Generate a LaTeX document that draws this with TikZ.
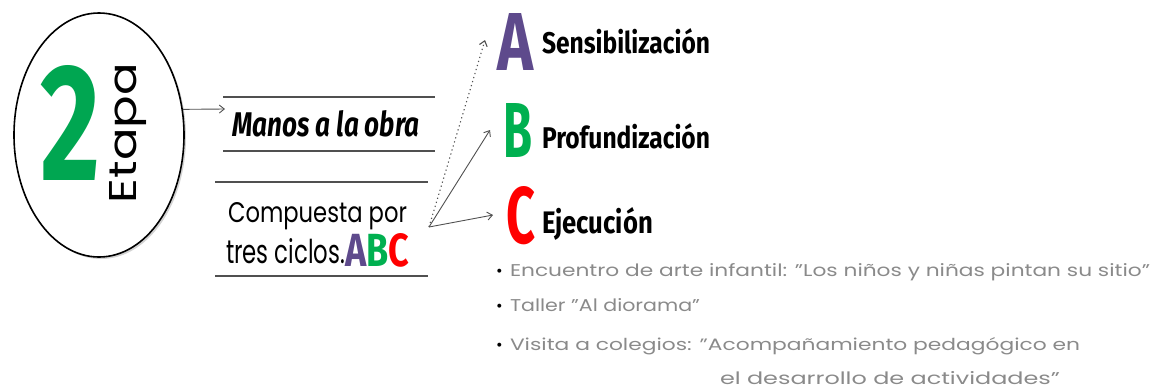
\documentclass[tikz,border=0pt]{standalone}
\usepackage{fontspec}
\usepackage{graphicx}
\setmainfont{Poppins}
\newfontfamily\fira{Fira Sans}
\usetikzlibrary{arrows.meta,shapes.geometric,shadows}
\definecolor{tgreen}{HTML}{00A651}
\definecolor{bgreen}{HTML}{00B050}
\definecolor{purp}{HTML}{5E4A8C}
\definecolor{tred}{HTML}{FF0000}
\definecolor{lineg}{HTML}{505050}
\definecolor{bulg}{HTML}{8A8A8A}
\tikzset{
  plain/.style={inner sep=0pt, outer sep=0pt},
  boxline/.style={draw=lineg, line width=1.8pt},
  conn/.style={draw=lineg, line width=0.9pt, -{Straight Barb[length=5pt,width=8pt]}},
  dotconn/.style={conn, line width=1.1pt, dash pattern=on 1.2pt off 3pt},
  bullet/.style={plain, anchor=base west, text=bulg},
}
\begin{document}
\begin{tikzpicture}[x=1pt,y=-1pt]
\useasboundingbox (0,0) rectangle (1159,391);
% Ellipse with "2 Etapa"
\node[ellipse, draw=black, fill=white, line width=1.6pt, minimum width=170pt, minimum height=244pt, inner sep=0pt,
      drop shadow={shadow xshift=2pt, shadow yshift=-2pt, opacity=0.35}] (etapa) at (99,135) {};
\node[plain, anchor=south west, text=tgreen] (two) at (40,180) {\resizebox{60pt}{115pt}{\fira\bfseries 2}};
\node[plain, rotate=90, anchor=base] (etapatxt) at (136,133) {\resizebox{140pt}{27pt}{Etapa}};
% Boxes
\node[plain, minimum width=212pt, minimum height=54pt] (box1) at (329,124) {};
\draw[boxline] (box1.north west) -- (box1.north east);
\draw[boxline] (box1.south west) -- (box1.south east);
\node[plain] (manos) at (326,124) {\resizebox{187pt}{26pt}{\fira\bfseries\itshape Manos a la obra}};
\node[plain, minimum width=213pt, minimum height=94pt] (box2) at (321.5,229) {};
\draw[boxline] (box2.north west) -- (box2.north east);
\draw[boxline] (box2.south west) -- (box2.south east);
\node[plain, anchor=base west] (comp1) at (228,222) {\resizebox{179pt}{20pt}{Compuesta por}};
\node[plain, anchor=base west] (comp2) at (226,263) {\resizebox{119pt}{25pt}{tres ciclos.}};
\node[plain, anchor=base west] (abc) at (345,266) {\resizebox{64pt}{33pt}{\fira\bfseries\textcolor{purp}{A}\textcolor{bgreen}{B}\textcolor{tred}{C}}};
% Big letters and stage names
\node[plain, anchor=south west] (A) at (497,70) {\resizebox{36pt}{57pt}{\fira\bfseries\color{purp}A}};
\node[plain, anchor=south west] (B) at (503,157) {\resizebox{29pt}{54pt}{\fira\bfseries\color{bgreen}B}};
\node[plain, anchor=south west] (C) at (506,245) {\resizebox{29pt}{57pt}{\fira\bfseries\color{tred}C}};
\node[plain, anchor=base west] (sens) at (542,53) {\resizebox{168pt}{25pt}{\fira\bfseries Sensibilización}};
\node[plain, anchor=base west] (prof) at (542,148) {\resizebox{168pt}{25pt}{\fira\bfseries Profundización}};
\node[plain, anchor=base west] (ejec) at (542,233) {\resizebox{111pt}{26pt}{\fira\bfseries Ejecución}};
% Connectors
\coordinate (m1) at (225,109);
\draw[conn] (etapa.17) -- (m1);
\coordinate (src) at (429,227);
\coordinate (tA) at (485,40);
\coordinate (tB) at (490,130);
\coordinate (tC) at (493,215);
\draw[dotconn] (src) -- (tA);
\draw[conn] (src) -- (tB);
\draw[conn] (src) -- (tC);
% Bullets
\node[plain, anchor=base west, text=black] (d1) at (496,276) {\fontsize{16}{16}\selectfont •};
\node[bullet] (b1) at (510,276) {\resizebox{640pt}{13pt}{Encuentro de arte infantil: "Los niños y niñas pintan su sitio"}};
\node[plain, anchor=base west, text=black] (d2) at (496,311) {\fontsize{16}{16}\selectfont •};
\node[bullet] (b2) at (510,311) {\resizebox{190pt}{13pt}{Taller "Al diorama"}};
\node[plain, anchor=base west, text=black] (d3) at (496,350) {\fontsize{16}{16}\selectfont •};
\node[bullet] (b3) at (510,350) {\resizebox{570pt}{13pt}{Visita a colegios: "Acompañamiento pedagógico en}};
\node[bullet] (b4) at (720,384) {\resizebox{340pt}{13pt}{el desarrollo de actividades"}};
\end{tikzpicture}
\end{document}
